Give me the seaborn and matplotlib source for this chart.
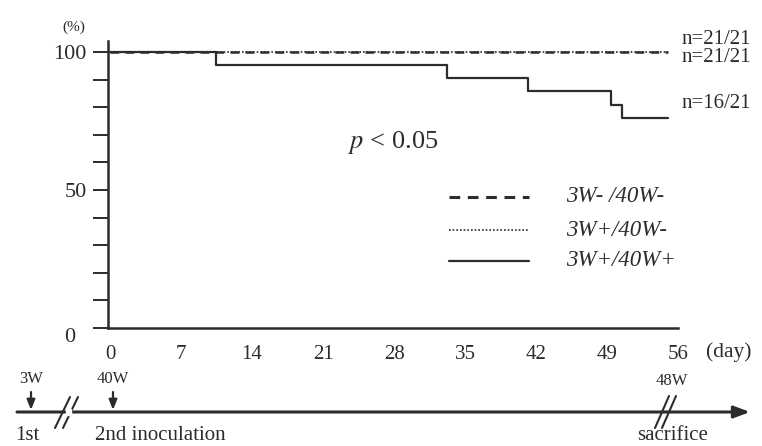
import numpy as np
import pandas as pd
import matplotlib
matplotlib.use("Agg")
import matplotlib.pyplot as plt
import seaborn as sns

sns.set_theme(style="white")
plt.rcParams["font.family"] = ["Liberation Serif", "DejaVu Serif"]
plt.rcParams["mathtext.fontset"] = "stix"

INK = "#2a2d2a"

# Survival data (number of surviving animals out of 21 per group)
group_names = ["3W- /40W-", "3W+/40W-", "3W+/40W+"]
days_neg_neg = [0, 55]
alive_neg_neg = [21, 21]
days_pos_neg = [0, 55]
alive_pos_neg = [21, 21]
days_pos_pos = [0, 10.4, 33.2, 41.2, 49.4, 50.5, 55]
alive_pos_pos = [21, 20, 19, 18, 17, 16, 16]
n_total = 21
end_labels = ["n=21/21", "n=21/21", "n=16/21"]

x_ticks = [0, 7, 14, 21, 28, 35, 42, 49, 56]

frames = []
for name, d, a in [(group_names[0], days_neg_neg, alive_neg_neg),
                   (group_names[1], days_pos_neg, alive_pos_neg),
                   (group_names[2], days_pos_pos, alive_pos_pos)]:
    frames.append(pd.DataFrame({"group": name, "day": d,
                                "survival": np.array(a) / n_total * 100}))
df = pd.concat(frames, ignore_index=True)

W, H = 762, 446
fig = plt.figure(figsize=(W / 100, H / 100), dpi=100)

# main survival axes (pixel box: x 108..678, y 41..328)
ax = fig.add_axes([108 / W, (H - 328) / H, 570 / W, 287 / H])
ax.set_xlim(-0.2, 56)
ax.set_ylim(0, 104)

styles = {
    group_names[0]: dict(linestyle=(0, (3.5, 2.5)), linewidth=1.8),
    group_names[1]: dict(linestyle=(0, (1, 1.2)), linewidth=1.2),
    group_names[2]: dict(linestyle="-", linewidth=1.6),
}
for name in group_names:
    sub = df[df["group"] == name]
    sns.lineplot(data=sub, x="day", y="survival", ax=ax, color=INK,
                 drawstyle="steps-post", estimator=None, sort=False,
                 legend=False, clip_on=False, **styles[name])

for s in ["top", "right"]:
    ax.spines[s].set_visible(False)
for s in ["left", "bottom"]:
    ax.spines[s].set_color(INK)
    ax.spines[s].set_linewidth(1.8)

ax.set_yticks([0, 50, 100])
ax.set_yticklabels(["", "50", "100"])
ax.set_yticks(np.arange(0, 101, 10), minor=True)
ax.tick_params(axis="y", which="both", direction="out", length=10.5,
               width=1.4, color=INK, left=True, labelsize=16,
               labelcolor=INK, pad=5)
ax.set_xticks(x_ticks)
ax.set_xticklabels([str(t) for t in x_ticks])
ax.tick_params(axis="x", length=0, labelsize=15, labelcolor=INK, pad=12)
ax.set_xlabel("")
ax.set_ylabel("")
ax.grid(False)

# overlay in pixel coordinates for annotations
ov = fig.add_axes([0, 0, 1, 1], facecolor="none")
ov.set_xlim(0, W)
ov.set_ylim(H, 0)
ov.axis("off")

def txt(x, y, s, size=14, ha="center", **kw):
    ov.text(x, y, s, fontsize=size, ha=ha, va="center", color=INK, **kw)

txt(74, 27, "(%)", size=11)
txt(75, 338, "0", size=16, ha="right")
txt(706, 352, "(day)", size=15.5, ha="left")

txt(682, 39, end_labels[0], size=15, ha="left")
txt(682, 58, end_labels[1], size=15, ha="left")
txt(682, 103, end_labels[2], size=15, ha="left")

txt(393, 143, r"$p$ < 0.05", size=19)

# key
key_y = [197, 230, 261]
for name, yy in zip(group_names, key_y):
    st = styles[name]
    ov.plot([449, 529], [yy, yy], color=INK, linestyle=st["linestyle"],
            linewidth=st["linewidth"] + (0.4 if name == group_names[0] else 0))
    txt(566, yy, name, size=16.5, ha="left", style="italic")

# timeline
ov.annotate("", xy=(750, 412), xytext=(17, 412),
            arrowprops=dict(arrowstyle="-|>,head_length=0.8,head_width=0.3",
                            color=INK, lw=2.2, shrinkA=0, shrinkB=0))
for x0, lab in [(31, "3W"), (113, "40W")]:
    ov.annotate("", xy=(x0, 410), xytext=(x0, 392),
                arrowprops=dict(arrowstyle="-|>,head_length=0.5,head_width=0.2",
                                color=INK, lw=1.6, shrinkA=0, shrinkB=0))
    txt(x0, 379, lab, size=12)
txt(672, 381, "48W", size=12)

for bx in [(55, 70), (63, 78)]:
    ov.plot([bx[0], bx[1]], [428, 397], color=INK, lw=1.5)
for bx in [(655, 669), (662, 676)]:
    ov.plot([bx[0], bx[1]], [428, 396], color=INK, lw=1.5)
ov.add_patch(plt.Rectangle((66, 409), 5, 6, color="white", zorder=3))

txt(27, 435, "1st", size=15)
txt(160, 435, "2nd inoculation", size=15)
txt(673, 435, "sacrifice", size=15)

fig.savefig("out.png", dpi=100, facecolor="white")
